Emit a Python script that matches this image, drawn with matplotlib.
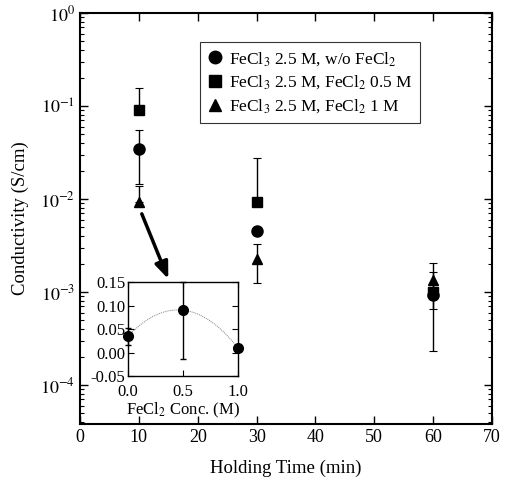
import numpy as np
import matplotlib
matplotlib.use("Agg")
import matplotlib.pyplot as plt
from matplotlib.lines import Line2D
from matplotlib.ticker import FixedLocator, LogLocator, NullFormatter, FuncFormatter

plt.rcParams['font.family'] = ['Liberation Serif', 'DejaVu Serif']
plt.rcParams['mathtext.fontset'] = 'stix'

# Main data: holding time (min) vs conductivity (S/cm)
time_min = [10, 30, 60]
cond_no_fecl2 = [0.0345, 0.0045, 0.00093]
cond_no_lo = [0.020, 0.0, 0.0007]
cond_no_hi = [0.020, 0.0, 0.0007]
cond_fecl2_05 = [0.09, 0.0093, 0.00100]
cond_05_lo = [0.0, 0.0, 0.0]
cond_05_hi = [0.067, 0.018, 0.0]
cond_fecl2_1 = [0.0093, 0.00226, 0.00135]
cond_1_lo = [0.0, 0.0010, 0.0007]
cond_1_hi = [0.0045, 0.0010, 0.0007]

# Inset data: FeCl2 concentration (M) vs conductivity at 10 min
inset_conc = [0.0, 0.5, 1.0]
inset_cond = [0.0345, 0.09, 0.0093]
inset_err_lo = [0.018, 0.103, 0.006]
inset_err_hi = [0.018, 0.060, 0.006]

xticks = [0, 10, 20, 30, 40, 50, 60, 70]
labels = ['FeCl$_3$ 2.5 M, w/o FeCl$_2$',
          'FeCl$_3$ 2.5 M, FeCl$_2$ 0.5 M',
          'FeCl$_3$ 2.5 M, FeCl$_2$ 1 M']
markers = ['o', 's', '^']

fig = plt.figure(figsize=(5.06, 4.86), dpi=100)
ax = fig.add_axes([80/506, 1-424/486, 412/506, 411/486])

common = dict(color='black', ecolor='black', elinewidth=1.0, capsize=3, capthick=0.8, linestyle='none')
ax.errorbar(time_min, cond_no_fecl2, yerr=[cond_no_lo, cond_no_hi], marker='o', markersize=8, **common)
ax.errorbar(time_min, cond_fecl2_05, yerr=[cond_05_lo, cond_05_hi], marker='s', markersize=7, **common)
ax.errorbar(time_min, cond_fecl2_1, yerr=[cond_1_lo, cond_1_hi], marker='^', markersize=7, **common)

ax.set_yscale('log')
ax.set_xlim(0, 70)
ax.set_ylim(10**-4.42, 1.0)
ax.xaxis.set_major_locator(FixedLocator(xticks))
ax.yaxis.set_major_locator(LogLocator(base=10, numticks=10))
ax.yaxis.set_minor_locator(LogLocator(base=10, subs=np.arange(2, 10), numticks=20))
ax.yaxis.set_minor_formatter(NullFormatter())
ax.yaxis.set_major_formatter(FuncFormatter(lambda v, p: r'$10^{%d}$' % round(np.log10(v))))
ax.tick_params(which='both', direction='in', top=True, right=True, labelsize=13)
ax.tick_params(which='major', length=6, width=1)
ax.tick_params(which='minor', length=3, width=0.8)
for s in ax.spines.values():
    s.set_linewidth(1.5)
ax.set_xlabel('Holding Time (min)', fontsize=13.5, labelpad=10)
ax.set_ylabel('Conductivity (S/cm)', fontsize=13.5, labelpad=8)

handles = [Line2D([], [], color='black', marker=m, linestyle='none', markersize=9) for m in markers]
leg = ax.legend(handles, labels, loc='upper left', bbox_to_anchor=((200-80)/412, 1-(42-13)/411), fontsize=12.5,
                frameon=True, fancybox=False, edgecolor='black', handlelength=0.8, handletextpad=0.4,
                borderpad=0.45, labelspacing=0.35, borderaxespad=0)
leg.get_frame().set_linewidth(0.8)

ax.annotate('', xy=(15.0, 10**-2.86), xytext=(10.5, 10**-2.16),
            arrowprops=dict(arrowstyle='-|>,head_length=1.0,head_width=0.4', color='black', lw=2.5,
                            shrinkA=0, shrinkB=0))

# Inset
ins = fig.add_axes([128/506, 1-376/486, 110/506, 94/486])
xs = np.linspace(0, 1, 100)
coef = np.polyfit(inset_conc, inset_cond, 2)
ins.plot(xs, np.polyval(coef, xs), color='gray', lw=0.7, ls=(0, (1, 1)))
ins.errorbar(inset_conc, inset_cond, yerr=[inset_err_lo, inset_err_hi], marker='o', markersize=7, color='black',
             ecolor='black', elinewidth=1.0, capsize=2.5, linestyle='none', clip_on=False)
ins.set_xlim(0, 1.0)
ins.set_ylim(-0.05, 0.15)
ins.set_xticks([0.0, 0.5, 1.0])
ins.set_yticks([-0.05, 0.0, 0.05, 0.10, 0.15])
ins.xaxis.set_major_formatter(FuncFormatter(lambda v, p: '%.1f' % v))
ins.yaxis.set_major_formatter(FuncFormatter(lambda v, p: '%.2f' % v))
ins.tick_params(direction='in', top=True, right=True, labelsize=12, length=4)
ins.tick_params(axis='x', pad=6)
ins.tick_params(axis='y', pad=2)
ins.set_xlabel('FeCl$_2$ Conc. (M)', fontsize=12, labelpad=0)
for s in ins.spines.values():
    s.set_linewidth(1.0)

fig.savefig('out.png', dpi=100)
